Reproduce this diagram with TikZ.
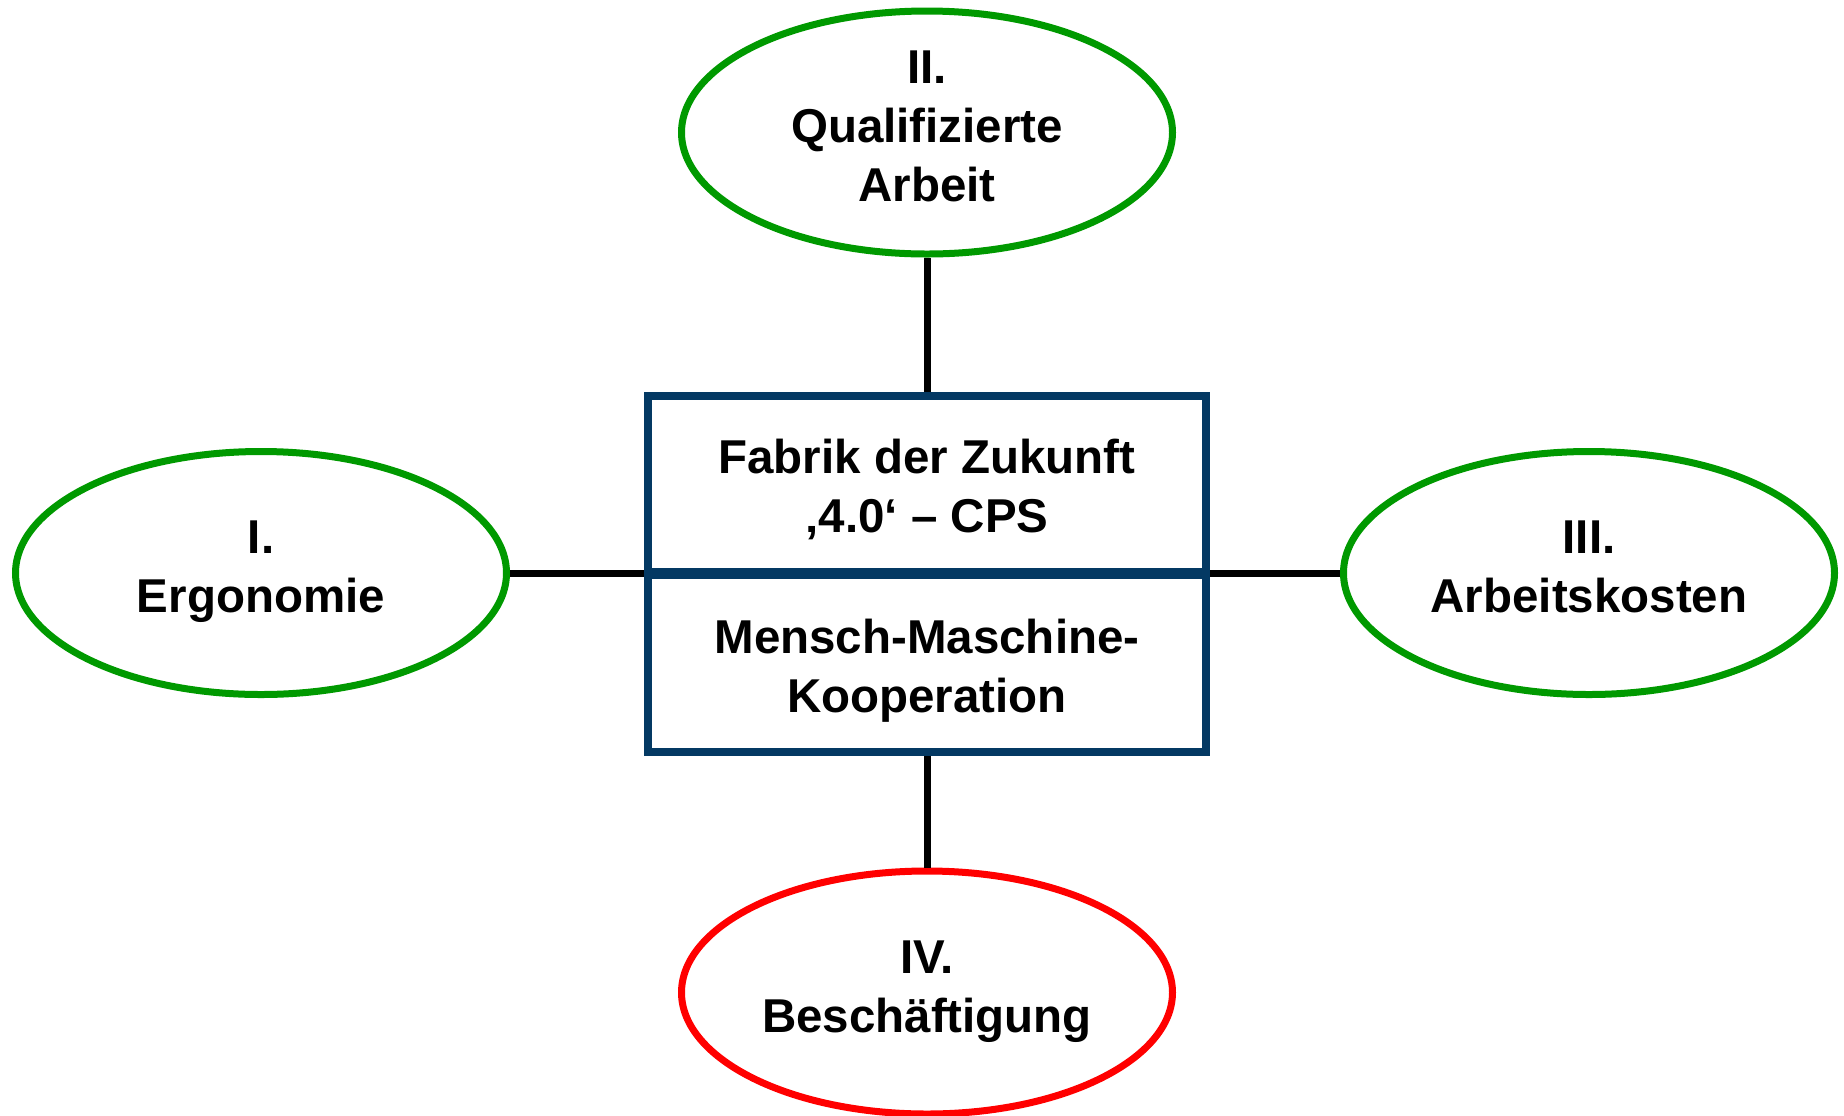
\documentclass[tikz,border=0pt]{standalone}
\usepackage{fontspec}
\setmainfont{Liberation Sans}
\usetikzlibrary{shapes.geometric}
\definecolor{ovalgreen}{RGB}{0,153,0}
\definecolor{ovalred}{RGB}{255,0,0}
\definecolor{boxblue}{RGB}{4,57,99}
\newcommand\stackedtext[2]{\raisebox{#1}[0pt][0pt]{\begin{tabular}[t]{@{}c@{}}#2\end{tabular}}}
\tikzset{
  oval/.style={ellipse, draw=ovalgreen, line width=3.5pt, fill=white,
    minimum width=245.5pt, minimum height=121.5pt, inner sep=0pt,
    font=\fontsize{23.75}{29.5}\selectfont\bfseries},
  redoval/.style={oval, draw=ovalred},
  part/.style={rectangle, draw=boxblue, line width=4pt, fill=white,
    minimum width=279pt, inner sep=0pt,
    font=\fontsize{23.75}{29.5}\selectfont\bfseries},
  link/.style={draw=black, line width=3.5pt}
}
\begin{document}
\begin{tikzpicture}[x=0.5pt,y=-0.5pt]
\useasboundingbox (0,0) rectangle (1844,1115);
\node[oval] (top) at (927,132.5) {\stackedtext{24.75pt}{II.\\Qualifizierte\\Arbeit}};
\node[oval] (left) at (261,573) {\stackedtext{10pt}{I.\\Ergonomie}};
\node[oval] (right) at (1589,573) {\stackedtext{10pt}{III.\\Arbeitskosten}};
\node[redoval] (bottom) at (927,992.5) {\stackedtext{9.75pt}{IV.\\Beschäftigung}};
\node[part, minimum height=88pt] (upper) at (927,484) {\stackedtext{5.5pt}{Fabrik der Zukunft\\‚4.0‘ – CPS}};
\node[part, minimum height=88.5pt] (lower) at (927,663.5) {\stackedtext{5.25pt}{Mensch-Maschine-\\Kooperation}};
\draw[link] (top.south) -- (upper.north);
\draw[link] (lower.south) -- (bottom.north);
\draw[link] (left.east) -- (left.east -| upper.west);
\draw[link] (right.west) -- (right.west -| upper.east);
\end{tikzpicture}
\end{document}
